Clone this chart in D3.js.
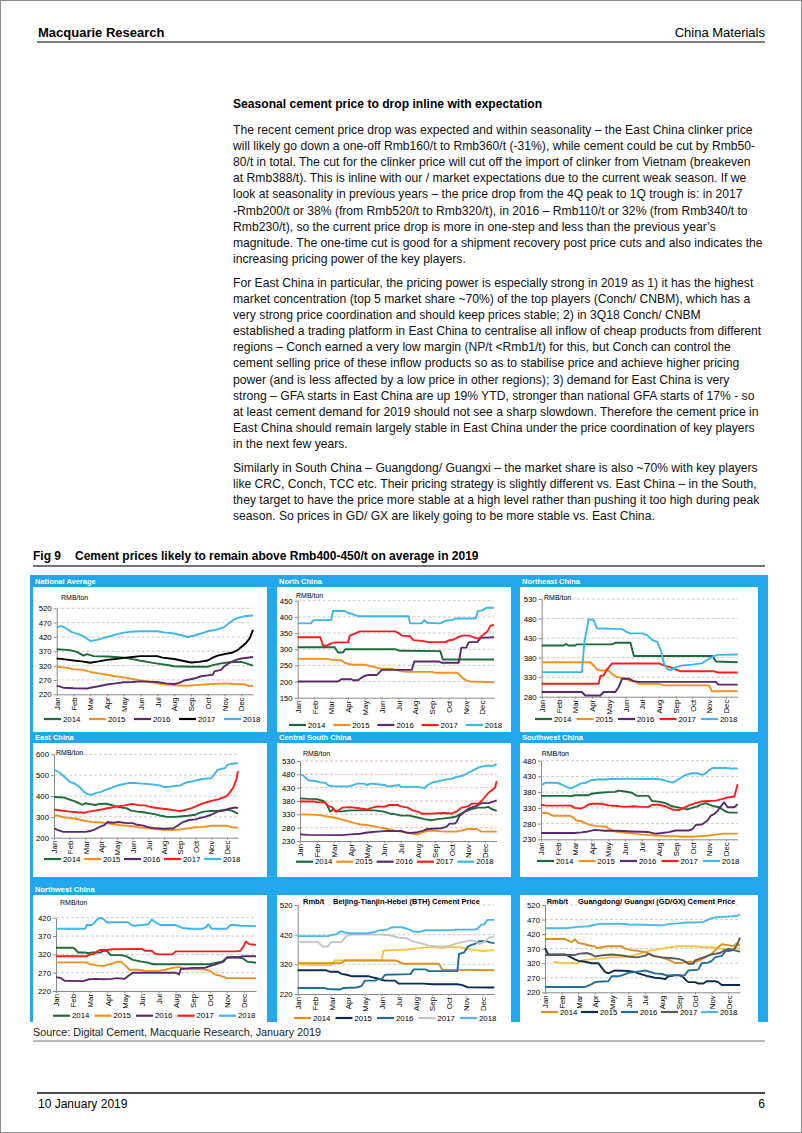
<!DOCTYPE html>
<html>
<head>
<meta charset="utf-8">
<script src="https://cdnjs.cloudflare.com/ajax/libs/d3/7.8.5/d3.min.js"></script>
<style>
body { margin: 0; background: #fff; }
svg { display: block; font-family: "Liberation Sans", Arial, sans-serif; }
</style>
</head>
<body>
<div id="page"></div>
<script>
// ---- text ----
var heading = "Seasonal cement price to drop inline with expectation";
var para1 = [
  "The recent cement price drop was expected and within seasonality \u2013 the East China clinker price",
  "will likely go down a one-off Rmb160/t to Rmb360/t (-31%), while cement could be cut by Rmb50-",
  "80/t in total. The cut for the clinker price will cut off the import of clinker from Vietnam (breakeven",
  "at Rmb388/t). This is inline with our / market expectations due to the current weak season. If we",
  "look at seasonality in previous years \u2013 the price drop from the 4Q peak to 1Q trough is: in 2017",
  "-Rmb200/t or 38% (from Rmb520/t to Rmb320/t), in 2016 \u2013 Rmb110/t or 32% (from Rmb340/t to",
  "Rmb230/t), so the current price drop is more in one-step and less than the previous year\u2019s",
  "magnitude. The one-time cut is good for a shipment recovery post price cuts and also indicates the",
  "increasing pricing power of the key players."
];
var para2 = [
  "For East China in particular, the pricing power is especially strong in 2019 as 1) it has the highest",
  "market concentration (top 5 market share ~70%) of the top players (Conch/ CNBM), which has a",
  "very strong price coordination and should keep prices stable; 2) in 3Q18 Conch/ CNBM",
  "established a trading platform in East China to centralise all inflow of cheap products from different",
  "regions \u2013 Conch earned a very low margin (NP/t <Rmb1/t) for this, but Conch can control the",
  "cement selling price of these inflow products so as to stabilise price and achieve higher pricing",
  "power (and is less affected by a low price in other regions); 3) demand for East China is very",
  "strong \u2013 GFA starts in East China are up 19% YTD, stronger than national GFA starts of 17% - so",
  "at least cement demand for 2019 should not see a sharp slowdown. Therefore the cement price in",
  "East China should remain largely stable in East China under the price coordination of key players",
  "in the next few years."
];
var para3 = [
  "Similarly in South China \u2013 Guangdong/ Guangxi \u2013 the market share is also ~70% with key players",
  "like CRC, Conch, TCC etc. Their pricing strategy is slightly different vs. East China \u2013 in the South,",
  "they target to have the price more stable at a high level rather than pushing it too high during peak",
  "season. So prices in GD/ GX are likely going to be more stable vs. East China."
];

var months = ["Jan","Feb","Mar","Apr","May","Jun","Jul","Aug","Sep","Oct","Nov","Dec"];
var years = ["2014","2015","2016","2017","2018"];

// ---- data: [month position, RMB/ton] ----
var nat14 = [[0,377],[0.8,374],[1.2,368],[1.6,355],[1.8,360],[2.2,353],[3.0,352],[3.5,350],[4.0,348],[4.6,342],[5.0,337],[5.4,333],[6.0,327],[6.6,322],[7.0,318],[8.0,316],[9.0,316],[9.3,322],[9.8,328],[10.3,332],[11.0,333],[11.3,328],[11.7,320]];
var nat15 = [[0,316],[0.6,312],[1.0,308],[1.5,306],[2.0,298],[2.5,293],[3.0,288],[3.5,283],[4.0,279],[4.5,274],[5.0,268],[5.5,263],[6.0,258],[6.5,254],[7.0,252],[7.7,250],[8.3,252],[9.0,255],[10.0,258],[10.6,256],[11.2,255],[11.4,250],[11.7,250]];
var nat16 = [[0,250],[0.4,243],[1.0,241],[1.8,240],[2.0,243],[2.5,248],[3.0,254],[3.5,258],[4.0,262],[4.5,263],[5.0,265],[6.0,263],[6.5,258],[7.0,256],[7.3,260],[7.6,268],[8.2,275],[8.6,283],[9.0,286],[9.3,288],[9.4,300],[9.8,305],[10.0,318],[10.3,330],[10.7,340],[11.0,345],[11.7,350]];
var nat17 = [[0,345],[0.5,342],[1.0,338],[1.5,335],[2.0,330],[2.5,335],[3.0,340],[3.5,343],[4.0,347],[4.5,350],[5.0,353],[6.0,353],[6.3,348],[7.0,343],[7.5,337],[8.0,331],[8.5,333],[9.0,338],[9.3,348],[9.6,355],[10.0,360],[10.5,366],[10.8,375],[11.0,385],[11.3,400],[11.5,415],[11.7,445]];
var nat18 = [[0,455],[0.3,458],[0.5,452],[0.9,437],[1.3,430],[1.6,422],[1.9,410],[2.0,406],[2.4,410],[3.0,420],[3.6,430],[4.0,435],[4.4,438],[5.0,440],[6.0,440],[6.4,436],[7.0,432],[7.5,425],[7.8,420],[8.2,425],[8.6,432],[9.0,440],[9.5,445],[10.0,455],[10.3,470],[10.6,482],[11.0,490],[11.3,493],[11.7,495]];

var nor14 = [[0,306],[2.2,306],[2.4,290],[2.7,290],[2.85,300],[5.8,300],[6.1,295],[8.5,294],[8.65,268],[11.7,268]];
var nor15 = [[0,270],[1.8,270],[2.0,267],[2.6,266],[2.8,258],[3.0,255],[3.3,252],[4.0,252],[4.3,248],[4.7,243],[5.0,240],[5.6,240],[5.9,235],[6.2,232],[6.5,230],[8.0,230],[8.2,227],[9.5,227],[9.7,218],[9.9,208],[10.1,202],[10.3,200],[11.7,198]];
var nor16 = [[0,200],[2.4,200],[2.6,207],[3.2,207],[3.3,204],[3.6,204],[3.8,212],[4.0,218],[4.2,220],[4.7,220],[4.9,230],[5.0,236],[6.8,236],[6.95,262],[8.4,262],[8.6,258],[9.6,258],[9.75,305],[10.05,305],[10.2,322],[10.7,322],[10.9,335],[11.7,337]];
var nor17 = [[0,337],[1.35,337],[1.5,312],[1.7,310],[2.0,318],[2.3,321],[3.0,321],[3.1,342],[3.4,348],[3.7,355],[5.8,355],[6.0,350],[6.2,342],[6.7,340],[6.9,328],[7.5,325],[7.8,322],[8.8,322],[9.0,327],[9.3,330],[9.6,338],[9.8,342],[10.2,342],[10.6,335],[10.8,333],[11.0,342],[11.3,355],[11.5,373],[11.7,375]];
var nor18 = [[0,380],[0.8,380],[0.9,388],[1.0,390],[2.0,390],[2.1,418],[2.8,418],[3.0,412],[3.3,408],[3.6,402],[6.6,402],[6.7,380],[7.4,380],[7.55,390],[7.7,382],[8.5,380],[8.8,388],[9.2,390],[9.4,395],[10.6,395],[10.75,418],[11.0,420],[11.25,428],[11.7,428]];

var ne14 = [[0,411],[1.3,411],[1.45,415],[1.6,411],[2.0,411],[2.1,414],[4.2,414],[4.4,418],[5.3,418],[5.5,384],[10.2,384],[10.4,370],[11.7,368]];
var ne15 = [[0,368],[2.9,368],[3.1,360],[3.3,350],[3.5,347],[4.0,347],[4.2,338],[4.5,330],[5.0,327],[5.3,320],[5.6,318],[5.8,313],[7.0,313],[7.3,309],[10.0,309],[10.15,294],[11.7,294]];
var ne16 = [[0,292],[2.4,292],[2.6,283],[3.5,283],[3.7,292],[4.4,292],[4.6,305],[4.8,326],[5.2,326],[5.5,320],[5.8,318],[10.4,318],[10.55,311],[11.7,311]];
var ne17 = [[0,313],[3.4,313],[3.5,333],[3.7,335],[3.9,350],[4.2,365],[7.0,365],[7.3,360],[7.7,355],[8.0,350],[8.3,345],[10.3,345],[10.5,342],[11.7,342]];
var ne18 = [[0,343],[2.4,343],[2.55,420],[2.8,478],[3.1,476],[3.3,455],[4.8,453],[5.1,445],[5.3,442],[6.0,442],[6.3,437],[6.6,425],[6.9,420],[7.1,400],[7.3,365],[7.5,350],[7.7,348],[8.0,355],[8.4,360],[9.0,362],[9.6,366],[9.9,375],[10.2,382],[10.5,387],[11.7,388]];

var ea14 = [[0,395],[0.6,393],[0.9,385],[1.3,375],[1.6,365],[1.8,358],[2.0,365],[2.4,360],[2.6,357],[2.9,362],[3.3,363],[3.6,358],[3.9,350],[4.3,345],[4.6,342],[4.9,330],[5.3,325],[5.7,322],[6.0,318],[6.4,313],[6.8,305],[7.2,300],[7.7,300],[8.0,302],[8.5,305],[9.0,310],[9.2,318],[9.5,325],[10.0,328],[10.5,330],[11.0,335],[11.3,330],[11.7,315]];
var ea15 = [[0,308],[0.3,305],[0.6,298],[1.0,295],[1.3,292],[1.7,285],[2.0,280],[2.4,276],[3.0,273],[3.3,270],[3.7,265],[4.2,260],[4.6,258],[5.0,255],[5.4,250],[6.0,245],[6.5,240],[7.0,238],[7.6,237],[8.0,240],[8.5,245],[9.0,250],[9.5,252],[10.0,257],[11.0,257],[11.3,250],[11.7,248]];
var ea16 = [[0,245],[0.3,235],[0.6,228],[2.0,228],[2.3,232],[2.6,240],[3.0,255],[3.2,260],[3.4,275],[3.8,272],[4.1,275],[4.6,270],[5.0,270],[5.3,262],[5.7,258],[6.0,250],[6.5,245],[7.0,243],[7.6,245],[7.9,260],[8.2,275],[8.6,285],[9.0,288],[9.3,295],[9.6,300],[10.0,310],[10.4,325],[10.8,330],[11.2,340],[11.5,345],[11.7,343]];
var ea17 = [[0,335],[0.5,330],[1.0,325],[1.5,322],[2.0,320],[2.2,325],[2.6,330],[3.0,335],[3.3,340],[3.7,345],[4.0,350],[4.5,355],[5.0,362],[5.4,355],[5.8,355],[6.0,350],[6.3,345],[6.8,340],[7.3,335],[7.8,330],[8.0,327],[8.4,335],[8.8,343],[9.0,350],[9.3,360],[9.7,370],[10.2,380],[10.5,385],[10.8,395],[11.0,400],[11.2,420],[11.4,440],[11.6,480],[11.7,520]];
var ea18 = [[0,527],[0.3,515],[0.7,490],[1.0,468],[1.3,460],[1.6,445],[1.9,420],[2.1,410],[2.4,405],[2.7,415],[3.0,420],[3.3,430],[3.7,440],[4.0,450],[4.3,455],[4.8,463],[5.2,462],[5.8,458],[6.3,455],[6.8,450],[7.0,442],[7.4,445],[7.6,448],[8.0,450],[8.4,465],[8.8,470],[9.2,478],[9.6,483],[10.0,485],[10.2,505],[10.4,525],[10.9,535],[11.0,548],[11.3,555],[11.7,557]];

var cs14 = [[0,390],[0.5,388],[1.0,387],[1.4,380],[1.6,365],[1.8,340],[2.0,350],[2.2,340],[2.6,342],[3.0,345],[4.4,345],[5.0,340],[5.4,332],[5.7,330],[6.0,325],[6.5,325],[7.0,318],[7.4,312],[7.8,308],[8.2,312],[8.6,315],[9.0,318],[9.3,322],[9.5,330],[9.8,340],[10.2,350],[10.6,355],[11.0,355],[11.2,358],[11.4,350],[11.7,343]];
var cs15 = [[0,330],[1.0,328],[1.3,325],[1.6,322],[2.0,318],[2.4,312],[2.8,305],[3.2,298],[3.6,292],[4.0,290],[4.4,285],[4.8,280],[5.2,275],[5.6,270],[6.0,265],[6.5,260],[7.0,255],[7.3,262],[7.6,268],[8.0,268],[8.6,265],[9.3,265],[9.8,272],[10.0,275],[10.5,275],[10.8,265],[11.7,265]];
var cs16 = [[0,255],[0.5,253],[2.5,252],[3.0,255],[3.6,257],[4.0,262],[4.6,265],[5.2,268],[5.6,267],[6.0,268],[6.3,262],[6.6,260],[7.0,263],[7.3,268],[7.6,275],[8.4,278],[8.7,283],[8.9,295],[9.2,295],[9.3,300],[9.5,325],[9.8,340],[10.0,350],[10.2,355],[10.5,362],[10.8,372],[11.2,372],[11.5,378],[11.7,382]];
var cs17 = [[0,378],[0.9,378],[1.0,375],[1.5,375],[1.7,360],[1.9,358],[2.1,340],[2.3,345],[2.5,355],[3.0,357],[3.5,353],[3.8,350],[4.0,348],[4.3,355],[4.6,360],[5.0,358],[5.3,365],[5.8,365],[6.0,360],[6.4,355],[6.7,345],[7.0,340],[7.3,332],[8.0,333],[8.5,335],[9.0,333],[9.3,340],[9.6,355],[10.0,360],[10.2,370],[10.6,370],[10.8,380],[11.0,395],[11.2,410],[11.5,425],[11.6,430],[11.7,455]];
var cs18 = [[0,480],[0.2,475],[0.5,458],[0.9,455],[1.2,450],[1.5,448],[1.7,438],[2.0,435],[2.9,435],[3.2,440],[3.4,445],[3.8,445],[4.0,440],[4.2,445],[4.6,443],[5.0,440],[5.3,435],[5.6,437],[5.9,440],[6.0,433],[7.0,433],[7.3,430],[7.4,428],[7.6,440],[7.9,450],[8.3,455],[8.6,460],[9.0,463],[9.3,470],[9.7,475],[10.0,485],[10.3,495],[10.6,505],[11.0,512],[11.5,512],[11.7,518]];

var sw14 = [[0,368],[1.6,368],[1.8,367],[2.0,370],[2.8,370],[3.0,375],[3.5,378],[4.0,380],[4.4,381],[4.6,385],[5.0,382],[5.4,378],[5.7,368],[6.4,368],[6.6,352],[7.0,350],[7.4,345],[7.8,335],[8.0,333],[8.3,330],[8.7,325],[9.0,330],[9.3,335],[9.5,340],[9.8,345],[10.0,340],[10.3,335],[10.6,332],[10.8,325],[11.0,318],[11.2,315],[11.7,315]];
var sw15 = [[0,315],[0.4,313],[0.7,305],[1.7,305],[1.9,300],[2.1,290],[2.4,288],[2.7,280],[3.0,275],[3.4,272],[3.9,270],[4.0,265],[4.4,255],[4.8,252],[5.2,250],[5.6,248],[6.0,245],[6.6,243],[7.0,242],[7.5,240],[8.0,240],[8.4,238],[9.0,238],[9.5,240],[10.0,242],[10.4,245],[10.8,248],[11.7,248]];
var sw16 = [[0,250],[2.0,250],[2.4,252],[2.8,255],[3.2,260],[3.8,257],[4.6,257],[5.4,255],[6.4,253],[6.8,248],[7.2,250],[7.6,253],[8.0,258],[8.8,258],[9.0,262],[9.2,275],[9.6,278],[9.9,290],[10.1,305],[10.3,310],[10.5,320],[10.7,335],[10.9,348],[11.0,340],[11.1,332],[11.5,332],[11.7,342]];
var sw17 = [[0,340],[0.3,337],[1.8,337],[2.0,330],[2.4,328],[2.6,333],[2.8,340],[3.0,343],[3.6,343],[4.0,338],[4.5,336],[5.0,333],[5.5,335],[6.0,333],[6.4,333],[6.6,340],[7.0,340],[7.4,335],[7.8,325],[8.2,323],[8.5,330],[8.8,338],[9.2,345],[9.5,350],[10.0,352],[10.4,353],[10.7,357],[11.0,362],[11.5,366],[11.7,405]];
var sw18 = [[0,402],[0.3,410],[0.9,410],[1.2,405],[1.6,395],[1.8,392],[2.1,400],[2.4,408],[2.7,410],[3.0,418],[3.3,420],[3.8,420],[4.2,422],[5.0,423],[6.0,422],[6.8,422],[7.2,420],[7.5,415],[7.8,410],[8.0,415],[8.3,425],[8.6,435],[9.0,440],[9.3,440],[9.6,435],[9.8,440],[10.0,450],[10.2,457],[11.0,457],[11.3,455],[11.7,455]];

var nw14 = [[0,338],[1.0,338],[1.1,335],[1.3,325],[1.7,325],[1.9,323],[2.1,325],[2.6,325],[2.8,330],[3.0,328],[3.2,318],[3.8,318],[4.1,315],[4.5,305],[5.0,300],[5.3,298],[5.7,293],[9.0,293],[9.2,295],[9.7,300],[10.0,310],[10.3,312],[10.9,310],[11.2,300],[11.7,297]];
var nw15 = [[0,298],[1.8,298],[2.0,293],[2.4,290],[2.8,288],[3.0,292],[3.3,295],[3.6,300],[3.8,300],[4.0,292],[4.3,278],[4.8,278],[5.2,275],[6.0,275],[6.4,278],[6.8,283],[7.2,285],[7.6,280],[8.4,280],[8.8,278],[9.0,275],[9.3,265],[9.6,262],[10.0,255],[11.7,255]];
var nw16 = [[0,258],[0.3,255],[0.5,248],[1.6,247],[1.9,252],[2.4,253],[2.8,252],[3.2,253],[3.6,255],[4.0,253],[4.2,260],[4.5,270],[7.0,270],[7.2,265],[7.3,280],[8.0,283],[8.7,283],[9.0,288],[9.3,292],[9.8,300],[10.0,312],[10.6,312],[11.0,315],[11.7,315]];
var nw17 = [[0,315],[1.8,315],[2.0,320],[2.2,320],[2.4,328],[2.6,332],[3.0,332],[3.3,334],[5.0,335],[5.2,330],[5.6,330],[5.8,322],[6.0,320],[6.8,320],[7.0,328],[10.6,328],[10.8,330],[11.0,345],[11.1,355],[11.3,348],[11.7,346]];
var nw18 = [[0,390],[1.7,390],[1.8,400],[2.1,400],[2.4,415],[2.6,420],[2.8,415],[3.0,407],[3.5,408],[4.2,408],[4.4,400],[4.6,398],[5.0,400],[5.4,402],[5.6,415],[5.8,408],[6.1,400],[7.0,400],[7.1,398],[7.4,392],[7.8,390],[8.6,390],[8.8,395],[8.9,402],[9.0,398],[9.1,390],[10.0,390],[10.2,400],[10.5,400],[10.8,398],[11.7,397]];

var bthX = [[0,320],[1.0,318],[2.0,318],[2.2,333],[5.0,335],[5.1,366],[5.6,368],[6.5,370],[7.0,373],[7.5,377],[8.2,378],[8.6,374],[9.0,378],[9.6,378],[10.0,372],[10.6,368],[11.0,365],[11.7,368]];
var bth14 = [[0,324],[2.6,324],[2.8,333],[5.8,333],[6.3,322],[8.4,322],[8.6,302],[11.7,300]];
var bth15 = [[0,300],[1.7,300],[1.9,295],[2.4,295],[2.6,288],[2.9,285],[3.2,280],[4.2,280],[4.4,277],[4.7,273],[5.0,268],[5.2,265],[5.8,265],[6.0,255],[7.5,255],[8.0,253],[9.5,253],[9.8,250],[10.1,243],[11.7,242]];
var bth16 = [[0,240],[1.6,240],[1.8,237],[2.5,235],[2.7,240],[3.5,242],[3.8,247],[4.0,265],[4.6,265],[4.8,270],[5.0,270],[5.2,285],[6.7,287],[6.9,303],[7.6,303],[7.8,297],[9.5,297],[9.6,355],[9.9,360],[10.1,378],[10.3,385],[10.6,390],[10.8,398],[11.2,398],[11.5,393],[11.7,392]];
var bth17 = [[0,395],[1.2,395],[1.5,380],[1.8,380],[2.0,395],[2.6,395],[2.9,415],[3.2,420],[5.0,420],[5.5,418],[6.0,410],[6.5,408],[6.8,398],[7.4,390],[7.8,383],[8.2,380],[8.8,380],[9.1,383],[9.4,390],[9.8,395],[10.2,400],[10.5,400],[10.8,388],[11.1,395],[11.4,410],[11.7,415]];
var bth18 = [[0,415],[1.8,415],[2.0,418],[2.3,422],[2.6,432],[2.9,425],[4.2,425],[4.5,428],[4.9,435],[5.3,437],[5.6,445],[6.2,445],[6.5,440],[6.9,430],[7.3,430],[7.6,435],[9.0,435],[9.4,437],[10.5,437],[10.7,440],[10.9,452],[11.1,455],[11.3,470],[11.7,470]];

var gdX = [[0.5,325],[1.0,320],[2.0,320],[2.2,330],[3.0,335],[4.0,340],[5.0,342],[5.5,350],[6.0,360],[6.5,365],[7.0,370],[7.5,375],[8.0,378],[9.0,378],[9.5,375],[10.0,375],[10.5,370],[11.0,368],[11.5,370],[11.7,372]];
var gd14 = [[0,403],[1.2,403],[1.3,400],[1.6,392],[1.8,402],[2.0,390],[2.4,385],[2.7,380],[3.0,378],[3.1,372],[3.4,375],[3.7,378],[4.6,378],[4.8,370],[5.2,365],[5.5,363],[6.0,358],[6.3,352],[6.6,343],[7.0,340],[7.5,330],[7.8,320],[8.2,322],[8.6,325],[9.0,325],[9.3,330],[9.6,340],[10.0,352],[10.3,370],[10.6,385],[11.0,382],[11.3,378],[11.5,388],[11.7,380]];
var gd15 = [[0,372],[0.2,350],[1.2,350],[1.4,345],[1.8,333],[2.0,328],[2.4,325],[2.8,320],[3.2,320],[3.4,305],[3.6,290],[3.8,285],[4.0,290],[4.2,295],[5.0,293],[5.4,290],[5.6,285],[6.0,278],[6.2,275],[6.6,270],[7.0,268],[7.2,265],[7.4,275],[7.8,278],[8.2,278],[8.4,265],[8.6,255],[9.0,255],[9.2,250],[9.5,250],[9.7,258],[10.2,258],[10.4,255],[10.6,245],[11.7,245]];
var gd16 = [[0,238],[2.3,238],[2.5,240],[2.8,248],[3.0,255],[3.4,257],[3.8,258],[4.0,275],[4.4,275],[4.7,280],[5.0,287],[5.5,290],[6.0,295],[6.3,290],[6.6,285],[7.0,283],[7.3,278],[8.0,280],[8.2,275],[8.4,280],[8.6,295],[9.2,298],[9.4,320],[9.8,322],[10.0,328],[10.2,340],[10.6,345],[10.9,365],[11.0,370],[11.3,365],[11.7,360]];
var gd17 = [[0,348],[1.8,348],[2.0,352],[2.5,355],[2.8,350],[3.0,343],[3.4,347],[4.0,350],[4.6,347],[5.0,343],[5.5,340],[6.0,345],[6.2,352],[6.5,345],[7.0,340],[7.5,338],[8.0,335],[8.3,330],[8.6,318],[8.9,318],[9.0,330],[9.5,340],[10.0,350],[10.5,355],[10.8,365],[11.0,362],[11.3,365],[11.5,380],[11.7,408]];
var gd18 = [[0,440],[1.3,440],[1.5,442],[2.0,445],[2.6,447],[3.0,452],[3.3,455],[4.5,456],[5.0,453],[6.0,452],[7.0,450],[7.5,455],[8.0,457],[8.5,460],[9.0,460],[9.5,462],[9.8,470],[10.0,475],[10.3,478],[11.0,480],[11.5,482],[11.7,488]];

// ---- colours ----
var regionColors = ["#1c6b3a", "#f5901e", "#5b2a6e", "#ff1c1c", "#3fb6e8"];
var natColors = ["#1c6b3a", "#f5901e", "#5b2a6e", "#000000", "#3fb6e8"];
var bthColors = ["#d9901c", "#0d2b4e", "#1f6f99", "#c4c4c4", "#4ab9ea"];
var gdColors = ["#d9901c", "#0d2b4e", "#1f6f99", "#5a5a5a", "#4ab9ea"];
var extraColor = "#f5c445";
var blue = "#22a7ef";

var charts = [
  {title: "National Average", x0: 56.7, x1: 253, yTop: 608.3, yBot: 694.3, yMin: 220, yMax: 520, step: 50,
   unit: "RMB/ton", ux: 61, uy: 598, lx: 44, ls: 45, ly: 719, colors: natColors, series: [nat14, nat15, nat16, nat17, nat18]},
  {title: "North China", x0: 297.7, x1: 494, yTop: 600.7, yBot: 697.7, yMin: 150, yMax: 450, step: 50,
   unit: "RMB/ton", ux: 296, uy: 596, lx: 289, ls: 44.2, ly: 725, colors: regionColors, series: [nor14, nor15, nor16, nor17, nor18]},
  {title: "Northeast China", x0: 541.7, x1: 737.7, yTop: 599, yBot: 696.7, yMin: 280, yMax: 530, step: 50,
   unit: "RMB/ton", ux: 544, uy: 598, lx: 535, ls: 41.5, ly: 719, colors: regionColors, series: [ne14, ne15, ne16, ne17, ne18]},
  {title: "East China", x0: 54, x1: 238, yTop: 754.3, yBot: 837.7, yMin: 200, yMax: 600, step: 100,
   unit: "RMB/ton", ux: 56, uy: 753, lx: 44, ls: 40, ly: 859, colors: regionColors, series: [ea14, ea15, ea16, ea17, ea18]},
  {title: "Central South China", x0: 300, x1: 496.7, yTop: 761, yBot: 841, yMin: 230, yMax: 530, step: 50, grid: "#d7a5a5",
   unit: "RMB/ton", ux: 303, uy: 754, lx: 296, ls: 40.3, ly: 861.7, colors: regionColors, series: [cs14, cs15, cs16, cs17, cs18]},
  {title: "Southwest China", x0: 541, x1: 737.7, yTop: 760.7, yBot: 839.3, yMin: 230, yMax: 480, step: 50,
   unit: "RMB/ton", ux: 541.7, uy: 753.3, lx: 537, ls: 41.5, ly: 861, colors: regionColors, series: [sw14, sw15, sw16, sw17, sw18]},
  {title: "Northwest China", x0: 56, x1: 256, yTop: 917.7, yBot: 991, yMin: 220, yMax: 420, step: 50,
   unit: "RMB/ton", ux: 60, uy: 903, lx: 53, ls: 41.5, ly: 1015.7, colors: regionColors, series: [nw14, nw15, nw16, nw17, nw18]},
  {title: "", inner: "Beijing-Tianjin-Hebei (BTH) Cement Price", ix: 333, x0: 297.7, x1: 494.3, yTop: 905, yBot: 994, yMin: 220, yMax: 520, step: 100,
   unit: "Rmb/t", ux: 303, uy: 901, lx: 294, ls: 41.5, ly: 1018, colors: bthColors, extra: bthX, series: [bth14, bth15, bth16, bth17, bth18]},
  {title: "", inner: "Guangdong/ Guangxi (GD/GX) Cement Price", ix: 578, x0: 545, x1: 740, yTop: 905, yBot: 992.3, yMin: 220, yMax: 520, step: 50,
   unit: "Rmb/t", ux: 546.7, uy: 901, lx: 541, ls: 40, ly: 1012, colors: gdColors, extra: gdX, series: [gd14, gd15, gd16, gd17, gd18]}
];

// ---- page ----
var W = 802, H = 1133;
var svg = d3.select("#page").append("svg").attr("width", W).attr("height", H);

svg.append("rect").attr("x", 0.5).attr("y", 0.5).attr("width", W - 1).attr("height", H - 1)
  .attr("fill", "#fff").attr("stroke", "#8c8c8c");

svg.append("text").attr("x", 38).attr("y", 37).attr("font-size", 13).attr("font-weight", "bold").text("Macquarie Research");
svg.append("text").attr("x", 765).attr("y", 37).attr("font-size", 13).attr("text-anchor", "end").text("China Materials");
svg.append("line").attr("x1", 37).attr("x2", 765).attr("y1", 42).attr("y2", 42).attr("stroke", "#555").attr("stroke-width", 1.5);

svg.append("text").attr("x", 233).attr("y", 108).attr("font-size", 12.1).attr("font-weight", "bold").text(heading);

var lineH = 16.1, yText = 134;
[para1, para2, para3].forEach(function(p) {
  p.forEach(function(line) {
    svg.append("text").attr("x", 233).attr("y", yText).attr("font-size", 12.15).attr("fill", "#111").text(line);
    yText += lineH;
  });
  yText += 8;
});

svg.append("text").attr("x", 33).attr("y", 560).attr("font-size", 12).attr("font-weight", "bold").text("Fig 9");
svg.append("text").attr("x", 75).attr("y", 560).attr("font-size", 12).attr("font-weight", "bold")
  .text("Cement prices likely to remain above Rmb400-450/t on average in 2019");
svg.append("line").attr("x1", 33).attr("x2", 765).attr("y1", 566).attr("y2", 566).attr("stroke", "#444").attr("stroke-width", 1.3);

// figure frame
svg.append("rect").attr("x", 30).attr("y", 575).attr("width", 738).attr("height", 447).attr("fill", blue);
var cols = [[33, 267], [277, 511], [520, 758]];
var rows = [[587, 732], [743, 877], [895, 1022]];
var titleY = [584, 740, 892];
rows.forEach(function(r) {
  cols.forEach(function(c) {
    svg.append("rect").attr("x", c[0]).attr("y", r[0]).attr("width", c[1] - c[0]).attr("height", r[1] - r[0]).attr("fill", "#fff");
  });
});

svg.append("text").attr("x", 33).attr("y", 1036).attr("font-size", 10.8).attr("fill", "#222")
  .text("Source: Digital Cement, Macquarie Research, January 2019");
svg.append("line").attr("x1", 33).attr("x2", 765).attr("y1", 1041).attr("y2", 1041).attr("stroke", "#777").attr("stroke-width", 1);

svg.append("line").attr("x1", 37).attr("x2", 765).attr("y1", 1093).attr("y2", 1093).attr("stroke", "#111").attr("stroke-width", 1.5);
svg.append("text").attr("x", 38).attr("y", 1108).attr("font-size", 12).text("10 January 2019");
svg.append("text").attr("x", 765).attr("y", 1108).attr("font-size", 12).attr("text-anchor", "end").text("6");

// ---- charts ----
function drawChart(cfg, idx) {
  var g = svg.append("g");
  var col = idx % 3, row = Math.floor(idx / 3);
  if (cfg.title) {
    g.append("text").attr("x", cols[col][0] + 2).attr("y", titleY[row]).attr("font-size", 7.5)
      .attr("font-weight", "bold").attr("fill", "#fff").text(cfg.title);
  }

  var x = d3.scaleLinear().domain([0, 11.7]).range([cfg.x0, cfg.x1]);
  var y = d3.scaleLinear().domain([cfg.yMin, cfg.yMax]).range([cfg.yBot, cfg.yTop]);
  var ticks = d3.range(cfg.yMin, cfg.yMax + 1, cfg.step);

  g.selectAll(".grid").data(ticks.slice(1)).enter().append("line")
    .attr("x1", cfg.x0).attr("x2", cfg.x1)
    .attr("y1", function(d) { return y(d); }).attr("y2", function(d) { return y(d); })
    .attr("stroke", cfg.grid || "#b5b5b5").attr("stroke-width", 0.7).attr("stroke-dasharray", "3,2");

  var yAxis = g.append("g").attr("transform", "translate(" + cfg.x0 + ",0)")
    .call(d3.axisLeft(y).tickValues(ticks).tickSize(3).tickSizeOuter(0).tickPadding(2));
  yAxis.selectAll("text").attr("font-size", 7.8).attr("fill", "#000").attr("font-family", "Liberation Sans, Arial, sans-serif");
  yAxis.selectAll("line, path").attr("stroke", "#8a8a8a");

  var xAxis = g.append("g").attr("transform", "translate(0," + cfg.yBot + ")")
    .call(d3.axisBottom(x).tickValues(d3.range(12)).tickFormat(function(i) { return months[i]; }).tickSize(2).tickSizeOuter(0));
  xAxis.selectAll("line, path").attr("stroke", "#8a8a8a");
  xAxis.selectAll("text")
    .attr("font-size", 7.8).attr("fill", "#000").attr("font-family", "Liberation Sans, Arial, sans-serif")
    .attr("transform", "rotate(-90)").attr("text-anchor", "end")
    .attr("x", -3).attr("y", 0).attr("dy", "0.35em");

  g.append("text").attr("x", cfg.ux).attr("y", cfg.uy).attr("dy", "0.35em").attr("font-size", cfg.inner ? 7.5 : 7)
    .attr("font-weight", cfg.inner ? "bold" : "normal").text(cfg.unit);
  if (cfg.inner) {
    g.append("text").attr("x", cfg.ix).attr("y", cfg.uy).attr("dy", "0.35em").attr("font-size", 7.5)
      .attr("font-weight", "bold").text(cfg.inner);
  }

  var line = d3.line().x(function(d) { return x(d[0]); }).y(function(d) { return y(d[1]); });
  if (cfg.extra) {
    g.append("path").attr("d", line(cfg.extra)).attr("fill", "none").attr("stroke", extraColor).attr("stroke-width", 1.9);
  }
  g.selectAll(".series").data(cfg.series).enter().append("path")
    .attr("d", function(d) { return line(d); })
    .attr("fill", "none")
    .attr("stroke", function(d, i) { return cfg.colors[i]; })
    .attr("stroke-width", 1.9)
    .attr("stroke-linejoin", "round");

  var leg = g.selectAll(".leg").data(years).enter().append("g")
    .attr("transform", function(d, i) { return "translate(" + (cfg.lx + i * cfg.ls) + "," + cfg.ly + ")"; });
  leg.append("line").attr("x1", 0).attr("x2", 17).attr("y1", 0).attr("y2", 0)
    .attr("stroke", function(d, i) { return cfg.colors[i]; }).attr("stroke-width", 2.2);
  leg.append("text").attr("x", 19).attr("y", 0).attr("dy", "0.35em").attr("font-size", 7.8).text(function(d) { return d; });
}

charts.forEach(drawChart);
</script>
</body>
</html>
